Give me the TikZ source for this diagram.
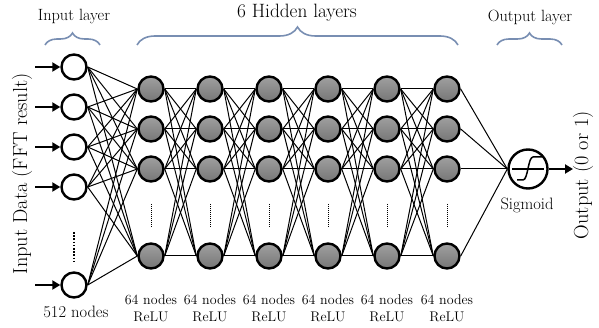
\documentclass[tikz,border=0pt]{standalone}
\usepackage{fontspec}
\usetikzlibrary{decorations.pathreplacing,arrows.meta,calc}
\definecolor{bracecol}{RGB}{120,142,178}
\definecolor{nodetop}{RGB}{160,160,160}
\definecolor{nodebot}{RGB}{118,118,118}
\begin{document}
\begin{tikzpicture}[x=1pt,y=-1pt,
  inp/.style={circle,draw,line width=2.4pt,minimum size=25pt,inner sep=0pt,fill=white},
  hid/.style={circle,draw,line width=2.4pt,minimum size=25pt,inner sep=0pt,top color=nodetop,bottom color=nodebot},
  outn/.style={circle,draw,line width=2.4pt,minimum size=39pt,inner sep=0pt,fill=white},
  conn/.style={line width=1pt},
  arr/.style={line width=2.8pt,-{Triangle[length=8pt,width=9pt]}},
  lbl/.style={font=\fontsize{14}{17}\selectfont,align=center,text=black,inner sep=0pt},
  brc/.style={decorate,decoration={brace,amplitude=#1},draw=bracecol,line width=1.6pt},
  brc/.default=12pt
]
\useasboundingbox (0,0) rectangle (599,328);
% input nodes
\foreach \y [count=\i] in {67,107,147,187,285}{
  \node[inp] (i\i) at (74,\y) {};
  \coordinate (a\i) at (35,\y);
}
% hidden nodes
\foreach \x [count=\c] in {151,210,269,328,387,447}{
  \foreach \y [count=\r] in {89,129,169,256}{
    \node[hid] (h\c-\r) at (\x,\y) {};
  }
  \draw[line width=0.9pt,dash pattern=on 1pt off 1pt] (\x,204) -- (\x,228);
  \node[lbl] (lab\c) at (\x,308) {64 nodes\\ReLU};
}
% output node
\node[outn] (o) at (528,169) {};
\coordinate (out) at (573,169);
% connections
\foreach \i in {1,...,5}{
  \foreach \r in {1,...,4}{
    \draw[conn] (i\i.east) -- (h1-\r.west);
  }
}
\foreach \c [evaluate=\c as \n using int(\c+1)] in {1,...,5}{
  \foreach \a in {1,...,4}{
    \foreach \b in {1,...,4}{
      \draw[conn] (h\c-\a.east) -- (h\n-\b.west);
    }
  }
}
\foreach \r in {1,...,4}{
  \draw[conn] (h6-\r.east) -- (o.west);
}
% arrows
\foreach \i in {1,...,5}{
  \draw[arr] (a\i) -- (i\i.west);
}
\draw[arr] (o.east) -- (out);
% input dots
\draw[line width=2pt,dash pattern=on 1.6pt off 1.6pt] (74,232) -- (74,261);
% sigmoid symbol
\draw[line width=1.5pt] ($(o.center)+(-16,0)$) -- ($(o.center)+(16,0)$);
\draw[line width=1.5pt] ($(o.center)+(-11,11)$) -- ($(o.center)+(-5,11)$)
  .. controls ($(o.center)+(0,11)$) and ($(o.center)+(0,-12)$) .. ($(o.center)+(5,-12)$) -- ($(o.center)+(14,-12)$);
% braces
\draw[brc] (45,45) -- (100,45);
\draw[brc=18pt] (137,45) -- (458,45);
\draw[brc] (497,45) -- (562,45);
% labels
\node[lbl,font=\fontsize{16.3}{19}\selectfont] (tin) at (74,17) {Input layer};
\node[lbl,font=\fontsize{19.3}{22}\selectfont] (thid) at (297,13) {6 Hidden layers};
\node[lbl,font=\fontsize{16.3}{19}\selectfont] (tout) at (530,17) {Output layer};
\node[lbl,font=\fontsize{16.5}{19}\selectfont] (t512) at (76,312) {512 nodes};
\node[lbl,font=\fontsize{16.5}{19}\selectfont] (tsig) at (527,205) {Sigmoid};
\node[lbl,rotate=90,font=\fontsize{20.3}{23}\selectfont] (tind) at (22,174) {Input Data (FFT result)};
\node[lbl,rotate=90,font=\fontsize{20.3}{23}\selectfont] (toutd) at (583,175) {Output (0 or 1)};
\end{tikzpicture}
\end{document}
